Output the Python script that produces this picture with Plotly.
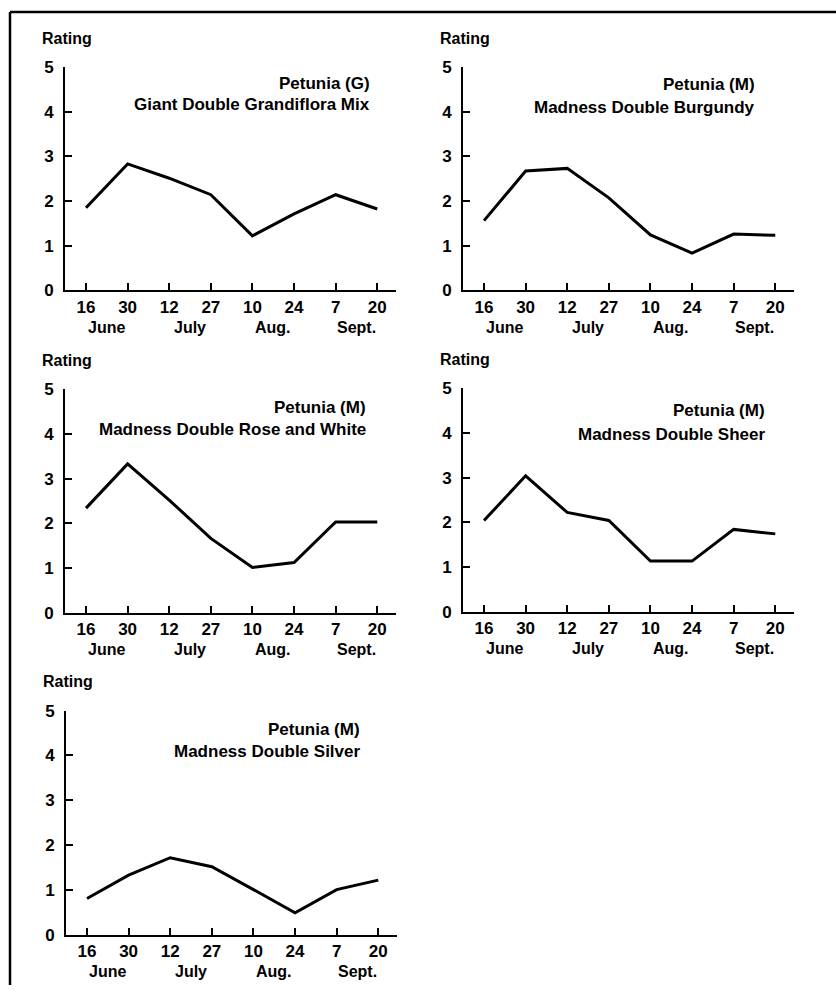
import plotly.graph_objects as go

W, H = 836, 995

dates = ["16", "30", "12", "27", "10", "24", "7", "20"]
months = ["June", "July", "Aug.", "Sept."]
month_pos = [0.5, 2.5, 4.5, 6.5]

titles = [
    ("Petunia (G)", "Giant Double Grandiflora Mix"),
    ("Petunia (M)", "Madness Double Burgundy"),
    ("Petunia (M)", "Madness Double Rose and White"),
    ("Petunia (M)", "Madness Double Sheer"),
    ("Petunia (M)", "Madness Double Silver"),
]

giant_mix = [1.85, 2.83, 2.51, 2.14, 1.22, 1.71, 2.14, 1.82]
burgundy = [1.56, 2.67, 2.73, 2.07, 1.24, 0.83, 1.26, 1.23]
rose_white = [2.34, 3.33, 2.52, 1.66, 1.01, 1.12, 2.03, 2.03]
sheer = [2.04, 3.04, 2.22, 2.04, 1.13, 1.13, 1.84, 1.74]
silver = [0.81, 1.33, 1.72, 1.52, 1.01, 0.49, 1.01, 1.22]
series = [giant_mix, burgundy, rose_white, sheer, silver]

# panel boxes in target pixels: (left, right, top, bottom)
boxes = [
    (65, 396, 66, 289),
    (463, 794, 66, 289),
    (65, 396, 388, 611),
    (463, 794, 387, 610),
    (66, 397, 709, 933),
]
title_x = [6.87, 6.55, 6.78, 6.81, 6.62]
title_y = [(4.64, 4.15), (4.62, 4.10), (4.60, 4.10), (4.51, 3.97), (4.58, 4.08)]

# the page is photographed with a small vertical offset/compression; compensate
OFF, SC = 8.0, 0.98


def py(y_px):
    """target pixel row -> paper fraction"""
    return 1 - ((y_px - OFF) / SC) / H


FONT = "Liberation Sans"
fig = go.Figure()
annotations = []
x_range = [-0.505, 7.45]

for i, (vals, box) in enumerate(zip(series, boxes)):
    n = "" if i == 0 else str(i + 1)
    l, r, t, b = box
    fig.add_trace(go.Scatter(
        x=list(range(len(dates))), y=vals, mode="lines",
        line=dict(color="black", width=3),
        xaxis="x" + n, yaxis="y" + n, hoverinfo="skip",
    ))
    axfont = dict(family=FONT, size=17, color="black", weight="bold")
    fig.layout["xaxis" + n] = dict(
        domain=[l / W, r / W], range=x_range, anchor="y" + n,
        showline=True, linecolor="black", linewidth=2,
        ticks="inside", ticklen=7, tickwidth=2, tickcolor="black",
        tickvals=list(range(len(dates))), ticktext=dates,
        showgrid=False, zeroline=False, tickfont=axfont, fixedrange=True,
    )
    fig.layout["yaxis" + n] = dict(
        domain=[py(b), py(t)], range=[0, 5], anchor="x" + n,
        showline=True, linecolor="black", linewidth=2,
        ticks="inside", ticklen=7, tickwidth=2, tickcolor="black",
        tickvals=[0, 1, 2, 3, 4, 5],
        showgrid=False, zeroline=False, tickfont=axfont, fixedrange=True,
        ticklabelstandoff=6,
    )
    xr = "x" + n
    yr = "y" + n
    annotations.append(dict(
        text="Rating", xref="paper", yref="paper",
        x=(l - 25) / W, y=py(t - 29), xanchor="left", yanchor="middle",
        showarrow=False, font=dict(family=FONT, size=16, color="black", weight="bold"),
    ))
    for txt, yy in zip(titles[i], title_y[i]):
        annotations.append(dict(
            text=txt, xref=xr, yref=yr, x=title_x[i], y=yy,
            xanchor="right", yanchor="middle", showarrow=False,
            font=dict(family=FONT, size=17, color="black", weight="bold"),
        ))
    for m, p in zip(months, month_pos):
        annotations.append(dict(
            text=m, xref=xr, yref="paper", x=p, y=py(b + 37),
            xanchor="center", yanchor="middle", showarrow=False,
            font=dict(family=FONT, size=16, color="black", weight="bold"),
        ))

shapes = [
    dict(type="line", xref="paper", yref="paper", x0=10 / W, x1=1, y0=py(11), y1=py(11),
         line=dict(color="black", width=2.5)),
    dict(type="line", xref="paper", yref="paper", x0=10 / W, x1=10 / W, y0=py(11), y1=0,
         line=dict(color="black", width=2.5)),
]

fig.update_layout(
    width=W, height=H, margin=dict(l=0, r=0, t=0, b=0),
    paper_bgcolor="white", plot_bgcolor="white", showlegend=False,
    annotations=annotations, shapes=shapes,
)

fig.write_html(
    "out.html",
    config={"displayModeBar": False, "responsive": False},
    post_script=(
        "document.body.style.margin='0';document.body.style.overflow='hidden';"
        "var d=document.getElementById('{plot_id}');"
        "d.style.position='fixed';d.style.top='0px';d.style.left='0px';"
    ),
)
